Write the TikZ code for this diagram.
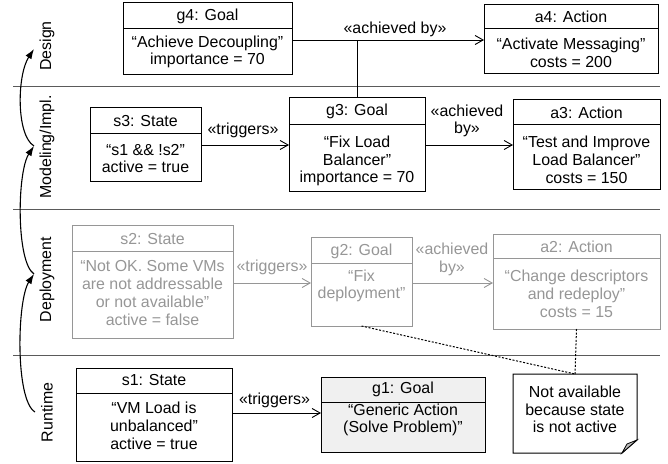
\documentclass[tikz,border=0pt]{standalone}
\usepackage{fontspec}
\setmainfont{Liberation Sans}
\usetikzlibrary{fit,arrows.meta}
\definecolor{ghost}{RGB}{150,150,150}
\definecolor{sepcol}{RGB}{90,90,90}
\definecolor{goalfill}{RGB}{240,240,240}
\definecolor{foldfill}{RGB}{190,190,190}
\tikzset{
  box/.style={draw, line width=1bp, inner sep=0pt, outer sep=0pt},
  txt/.style={align=center, inner sep=0pt, outer sep=0pt, font=\fontsize{16}{17.8}\selectfont},
  conn/.style={line width=0.9bp, -{Straight Barb[length=8bp,width=9bp]}},
  lanesep/.style={draw=sepcol, line width=1bp},
  lanelabel/.style={txt, rotate=90},
  lanearrow/.style={line width=1.1bp, -{Latex[length=10bp,width=7bp]}},
  notelink/.style={line width=1bp, dash pattern=on 2bp off 1.6bp},
}
\newcommand\objbox[8][]{%
  \node[box,fit={#3 #4},#1] (#2) {};
  \draw[line width=1bp] (#2.west |- 0,#5) -- (#2.east |- 0,#5);
  \path (#2.north) -- (#2.north |- 0,#5) node[txt,midway] (#2h) {#7};
  \node[txt] (#2b) at (#2.center |- 0,#6) {#8};
}
\begin{document}
\begin{tikzpicture}[x=1bp,y=-1bp]
\useasboundingbox (0,0) rectangle (668,464);

% lane separators
\draw[lanesep] (13,87) -- (660,87);
\draw[lanesep] (13,210) -- (660,210);
\draw[lanesep] (13,355) -- (660,355);

% lane labels
\node[lanelabel] (lDesign) at (47,46) {Design};
\node[lanelabel] (lModel) at (47,147) {Modeling/Impl.};
\node[lanelabel] (lDeploy) at (47,279.5) {Deployment};
\node[lanelabel] (lRun) at (47,412.5) {Runtime};

% lane arrows
\coordinate (lc1) at (35,412);
\coordinate (lc2) at (34,274);
\coordinate (lc3) at (34,146);
\coordinate (lc4) at (34,49);
\draw[lanearrow] (lc1) .. controls (15,400) and (17,300) .. (lc2);
\draw[lanearrow] (lc2) .. controls (16,262) and (17,172) .. (lc3);
\draw[lanearrow] (lc3) .. controls (16,135) and (17,75) .. (lc4);

% Design
\objbox{g4}{(123,3)}{(292,75)}{29}{52}{g4: Goal}{“Achieve Decoupling”\\importance = 70}
\objbox{a4}{(484,5)}{(658,74)}{29}{53}{a4: Action}{“Activate Messaging”\\costs = 200}

% Modeling
\objbox{s3}{(90,108)}{(201,182)}{134}{158.5}{s3: State}{“s1 \&\& !s2”\\active = true}
\objbox{g3}{(289,98)}{(425,192)}{125}{161}{g3: Goal}{“Fix Load\\Balancer”\\importance = 70}
\objbox{a3}{(513,100)}{(660,190)}{125}{160}{a3: Action}{“Test and Improve\\Load Balancer”\\costs = 150}

% Deployment (inactive)
\begin{scope}[color=ghost]
\objbox{s2}{(72,226)}{(233,338)}{252}{293}{s2: State}{“Not OK. Some VMs\\are not addressable\\or not available”\\active = false}
\objbox{g2}{(311,238)}{(412,326)}{264}{286}{g2: Goal}{“Fix\\deployment”}
\objbox{a2}{(493,235)}{(660,329)}{259}{294}{a2: Action}{“Change descriptors\\and redeploy”\\costs = 15}
\coordinate (r2) at (0,283);
\draw[conn] (s2.east |- r2) -- (g2.west |- r2);
\node[txt] (lab2a) at (272,267) {«triggers»};
\draw[conn] (g2.east |- r2) -- (a2.west |- r2);
\node[txt] (lab2b) at (452,259.5) {«achieved\\by»};
\end{scope}

% Runtime
\objbox{s1}{(76,368)}{(232,461)}{393}{426}{s1: State}{“VM Load is\\unbalanced”\\active = true}
\objbox[fill=goalfill]{g1}{(321,377)}{(485,452)}{402}{420}{g1: Goal}{“Generic Action\\(Solve Problem)”}

% note
\node[fit={(513,374) (637,453)}, inner sep=0pt, outer sep=0pt] (note) {};
\draw[line width=1bp, fill=white] (note.north west) -- (note.north east) -- (637,440) -- (622,453) -- (note.south west) -- cycle;
\draw[line width=0.8bp, fill=foldfill] (637,440) -- (622,453) -- (627,444) -- cycle;
\node[txt] (notet) at (575,409.5) {Not available\\because state\\is not active};
\draw[notelink] (g2.south) -- (note.north);
\draw[notelink] (a2.south) -- (note.north);

% connectors
\coordinate (r4) at (0,40);
\draw[conn] (g4.east |- r4) -- (a4.west |- r4);
\draw[line width=0.9bp] (g3.north) -- (g3.north |- r4);
\node[txt] (lab4) at (395,29) {«achieved by»};

\coordinate (r3) at (0,145);
\draw[conn] (s3.east |- r3) -- (g3.west |- r3);
\node[txt] (lab3a) at (243,130) {«triggers»};
\draw[conn] (g3.east |- r3) -- (a3.west |- r3);
\node[txt] (lab3b) at (467,121) {«achieved\\by»};

\coordinate (r1) at (0,413);
\draw[conn] (s1.east |- r1) -- (g1.west |- r1);
\node[txt] (lab1) at (274.5,400) {«triggers»};
\end{tikzpicture}
\end{document}
